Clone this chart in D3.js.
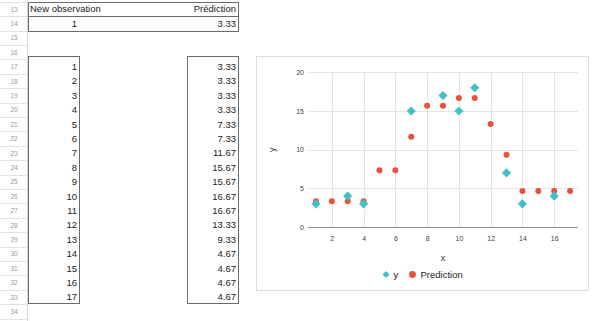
<!DOCTYPE html>
<html><head><meta charset="utf-8">
<script src="https://cdn.jsdelivr.net/npm/d3@7"></script>
<style>
html,body{margin:0;padding:0;background:#fff;}
svg{display:block;font-family:"Liberation Sans",Arial,sans-serif;}
</style></head>
<body><svg id="c" width="600" height="321"></svg>
<script>
// ---- data ----
const rowLabels = [13,14,15,16,17,18,19,20,21,22,23,24,25,26,27,28,29,30,31,32,33,34];
const headerLabels = ["New observation","Prédiction"];
const newObservation = [1];
const newPrediction = [3.33];
const observations = [1,2,3,4,5,6,7,8,9,10,11,12,13,14,15,16,17];
const predictions = [3.33,3.33,3.33,3.33,7.33,7.33,11.67,15.67,15.67,16.67,16.67,13.33,9.33,4.67,4.67,4.67,4.67];
const yX = [1,3,4,7,9,10,11,13,14,16];
const yValues = [3,4,3,15,17,15,18,7,3,4];
const xTicks = [2,4,6,8,10,12,14,16];
const yTicks = [0,5,10,15,20];
const seriesNames = ["y","Prediction"];

// ---- spreadsheet ----
const svg = d3.select("#c");
const rowH = 14.4, row0 = 1.8;
const rowTop = n => row0 + (n-13)*rowH;
const colB = [28,79], colD = [187,238];

const sheet = svg.append("g");
// row header
sheet.append("line").attr("x1",27.5).attr("x2",27.5).attr("y1",0).attr("y2",321).attr("stroke","#d8d8d8");
sheet.selectAll("line.rl").data([12].concat(rowLabels)).join("line").attr("class","rl")
  .attr("x1",0).attr("x2",27.5).attr("y1",d=>Math.round(rowTop(d+1))+0.5).attr("y2",d=>Math.round(rowTop(d+1))+0.5)
  .attr("stroke","#e2e2e2");
sheet.selectAll("text.rn").data(rowLabels).join("text").attr("class","rn")
  .attr("x",14).attr("y",d=>rowTop(d)+rowH/2+2.5).attr("text-anchor","middle")
  .attr("font-size",6.5).attr("fill","#999").text(d=>d);

const bc = "#6b6b6b";
// header box rows 13-14
const hb = sheet.append("g");
hb.append("rect").attr("x",colB[0]+0.5).attr("y",Math.round(rowTop(13))+0.5)
  .attr("width",colD[1]-colB[0]).attr("height",Math.round(rowTop(15))-Math.round(rowTop(13)))
  .attr("fill","none").attr("stroke",bc);
hb.append("line").attr("x1",colB[0]).attr("x2",colD[1]).attr("y1",Math.round(rowTop(14))+0.5).attr("y2",Math.round(rowTop(14))+0.5).attr("stroke",bc);
hb.append("text").attr("x",colB[0]+2).attr("y",rowTop(13)+rowH/2+3.4).attr("font-size",9.5).attr("fill","#222").text(headerLabels[0]);
hb.append("text").attr("x",colD[1]-2).attr("y",rowTop(13)+rowH/2+3.4).attr("font-size",9.5).attr("fill","#222").attr("text-anchor","end").text(headerLabels[1]);
hb.append("text").attr("x",colB[1]-2).attr("y",rowTop(14)+rowH/2+3.4).attr("font-size",9.5).attr("fill","#222").attr("text-anchor","end").text(newObservation[0]);
hb.append("text").attr("x",colD[1]-2).attr("y",rowTop(14)+rowH/2+3.4).attr("font-size",9.5).attr("fill","#222").attr("text-anchor","end").text(d3.format(".2f")(newPrediction[0]));

// lower boxes rows 17-33
function box(col, vals, fmt){
  const g = sheet.append("g");
  g.append("rect").attr("x",col[0]+0.5).attr("y",Math.round(rowTop(17))-2.5)
    .attr("width",col[1]-col[0]).attr("height",Math.round(rowTop(34))-Math.round(rowTop(17))+2)
    .attr("fill","none").attr("stroke",bc);
  g.selectAll("text").data(vals).join("text")
    .attr("x",col[1]-2).attr("y",(d,i)=>rowTop(17+i)+rowH/2+3.4)
    .attr("font-size",9.5).attr("fill","#222").attr("text-anchor","end").text(fmt);
}
box(colB, observations, d=>d);
box(colD, predictions, d=>d3.format(".2f")(d));

// ---- chart ----
const ch = svg.append("g");
ch.append("rect").attr("x",256.5).attr("y",56.5).attr("width",332).attr("height",234)
  .attr("fill","#fff").attr("stroke","#dcdcdc");
const x = d3.scaleLinear().domain([0.5,17.5]).range([308,578]);
const y = d3.scaleLinear().domain([0,20]).range([227,72.3]);

const grid = ch.append("g");
grid.selectAll("line.h").data(yTicks.filter(t=>t>0)).join("line").attr("class","h")
  .attr("x1",x.range()[0]).attr("x2",x.range()[1])
  .attr("y1",d=>Math.round(y(d))+0.5).attr("y2",d=>Math.round(y(d))+0.5).attr("stroke","#e4e4e4");
grid.selectAll("line.v").data(xTicks).join("line").attr("class","v")
  .attr("y1",y(20)).attr("y2",y(0))
  .attr("x1",d=>Math.round(x(d))+0.5).attr("x2",d=>Math.round(x(d))+0.5).attr("stroke","#e4e4e4");
// baseline
ch.append("line").attr("x1",x.range()[0]).attr("x2",x.range()[1])
  .attr("y1",Math.round(y(0))+0.5).attr("y2",Math.round(y(0))+0.5).attr("stroke","#8c8c8c").attr("stroke-width",1.2);

// axes labels via d3 axes
const xAxis = ch.append("g").attr("transform",`translate(0,${y(0)})`)
  .call(d3.axisBottom(x).tickValues(xTicks).tickSize(0).tickPadding(9));
xAxis.select(".domain").remove();
xAxis.selectAll("text").attr("font-size",7).attr("fill","#444").attr("font-family","Liberation Sans, Arial, sans-serif");
const yAxis = ch.append("g").attr("transform",`translate(${x.range()[0]},0)`)
  .call(d3.axisLeft(y).tickValues(yTicks).tickSize(0).tickPadding(4));
yAxis.select(".domain").remove();
yAxis.selectAll("text").attr("font-size",7).attr("fill","#444").attr("font-family","Liberation Sans, Arial, sans-serif");

ch.append("text").attr("x",(x.range()[0]+x.range()[1])/2).attr("y",261).attr("text-anchor","middle")
  .attr("font-size",9).attr("fill","#333").text("x");
ch.append("text").attr("transform",`translate(275,${(y(0)+y(20))/2}) rotate(-90)`).attr("text-anchor","middle")
  .attr("font-size",9).attr("fill","#333").text("y");

const teal = "#43bfc8", red = "#e9513b";
// prediction dots
ch.selectAll("circle.p").data(predictions).join("circle").attr("class","p")
  .attr("cx",(d,i)=>x(observations[i])).attr("cy",d=>y(d)).attr("r",3).attr("fill",red);
// y diamonds
const diamond = s => `M0,${-s}L${s},0L0,${s}L${-s},0Z`;
ch.selectAll("path.yd").data(yValues).join("path").attr("class","yd")
  .attr("transform",(d,i)=>`translate(${x(yX[i])},${y(d)})`).attr("d",diamond(4.6)).attr("fill",teal);

// legend
const lg = ch.append("g");
lg.append("path").attr("transform","translate(386,274.5)").attr("d",diamond(3.6)).attr("fill",teal);
lg.append("text").attr("x",393.5).attr("y",278).attr("font-size",9.5).attr("fill","#222").text(seriesNames[0]);
lg.append("circle").attr("cx",412.5).attr("cy",274.5).attr("r",3.4).attr("fill",red);
lg.append("text").attr("x",420.5).attr("y",278).attr("font-size",9.5).attr("fill","#222").text(seriesNames[1]);
</script></body></html>
